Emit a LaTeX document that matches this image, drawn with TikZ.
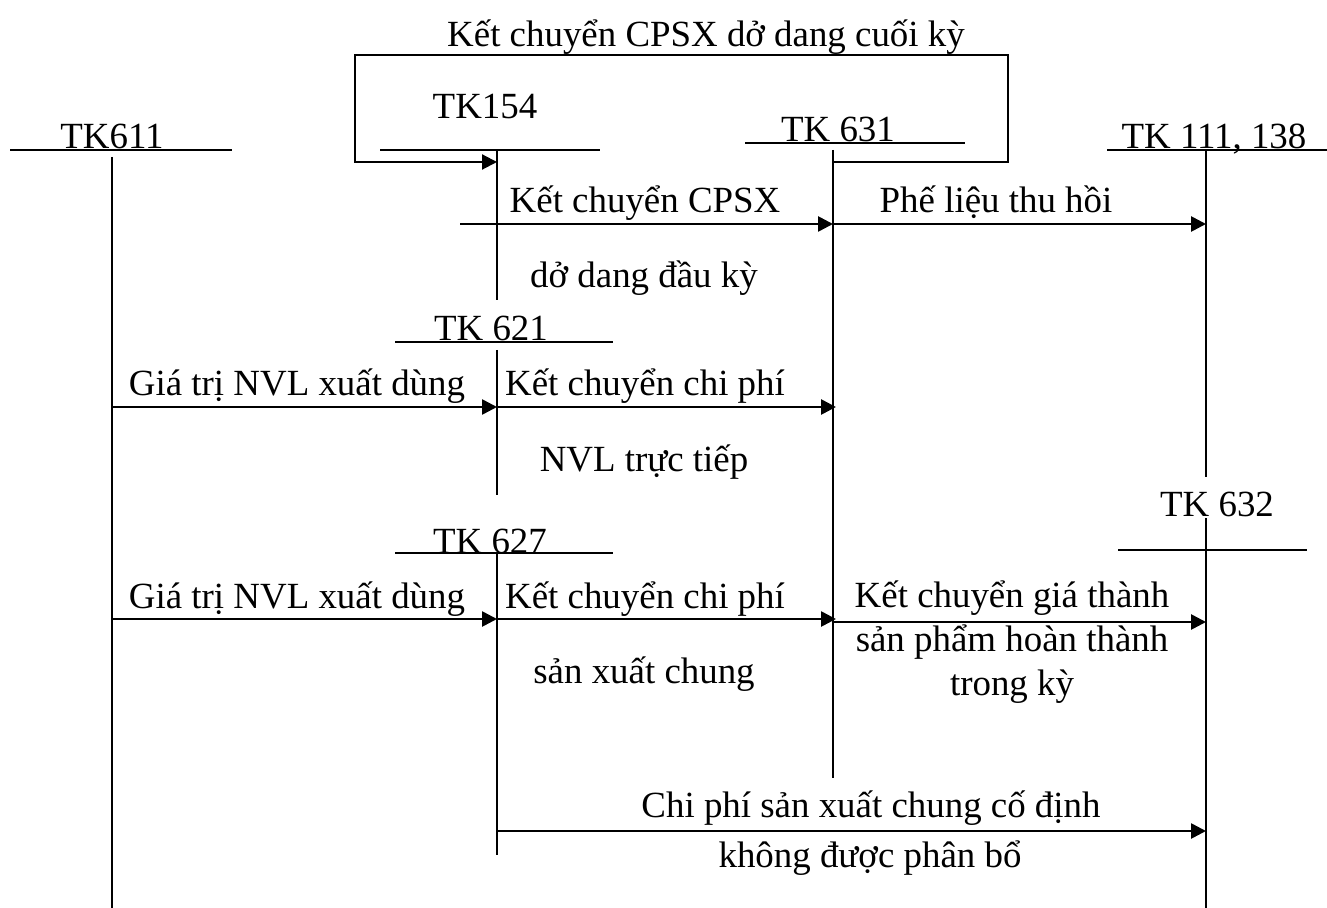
\documentclass[tikz,border=0pt]{standalone}
\usepackage{fontspec}
\setmainfont{Liberation Serif}
\usetikzlibrary{arrows.meta}
\tikzset{
  every picture/.style={line width=1.2pt},
  lbl/.style={font=\fontsize{21}{25}\selectfont, inner sep=0pt, anchor=base},
  acct/.style={lbl},
  tline/.style={line width=1.2pt},
  flow/.style={-{Triangle[length=3mm, width=3mm]}, line width=1.5pt},
}

\begin{document}
\begin{tikzpicture}[x=0.02cm, y=-0.02cm]
  \useasboundingbox (0,0) rectangle (1327,908);
  % tai khoan chu T
  \node[acct] (tk611) at (112,149) {TK611};
  \node[acct] (tk154) at (485,119) {TK154};
  \node[acct] (tk631) at (838,142) {TK 631};
  \node[acct] (tk111) at (1214,149) {TK 111, 138};
  \node[acct] (tk621) at (491,341) {TK 621};
  \node[acct] (tk627) at (490,553) {TK 627};
  \node[acct] (tk632) at (1217,516) {TK 632};
  \foreach \xl/\xr/\yh/\xv/\yt/\yb in {10/232/150/112/157/908, 380/600/150/497/150/300,
      745/965/143/833/150/778, 1107/1327/150/1206/150/477, 395/613/342/497/350/495,
      395/613/553/497/553/855, 1118/1307/550/1206/518/908} {
    \draw[tline] (\xl,\yh) -- (\xr,\yh);
    \draw[tline] (\xv,\yt) -- (\xv,\yb);
  }
  % diem dau, diem cuoi
  \coordinate (s154) at (460,224);
  \coordinate (a631) at (833,224);
  \coordinate (a111) at (1206,224);
  \coordinate (a611) at (112,407);
  \coordinate (a621) at (497,407);
  \coordinate (b631) at (836,407);
  \coordinate (c611) at (112,619);
  \coordinate (c627) at (497,619);
  \coordinate (c631) at (836,619);
  \coordinate (d631) at (833,622);
  \coordinate (d632) at (1206,622);
  \coordinate (e627) at (497,831);
  \coordinate (e632) at (1206,831);
  \coordinate (k631) at (833,162);
  \coordinate (k154) at (497,162);
  % ket chuyen cuoi ky
  \node[lbl] (title) at (706,47) {Kết chuyển CPSX dở dang cuối kỳ};
  \draw[flow, line width=1.2pt] (k631) -- (1008,162) -- (1008,55) -- (355,55) -- (355,162) -- (k154);
  % dong 1
  \draw[flow] (s154) -- (a631);
  \draw[flow] (a631) -- (a111);
  \node[lbl] (kc154) at (645,213) {Kết chuyển CPSX};
  \node[lbl] (kc154b) at (644,288) {dở dang đầu kỳ};
  \node[lbl] (plthu) at (996,213) {Phế liệu thu hồi};
  % dong 2
  \draw[flow] (a611) -- (a621);
  \draw[flow] (a621) -- (b631);
  \node[lbl] (gtnvl1) at (297,396) {Giá trị NVL xuất dùng};
  \node[lbl] (kc621) at (645,396) {Kết chuyển chi phí};
  \node[lbl] (nvltt) at (644,471) {NVL trực tiếp};
  % dong 3
  \draw[flow] (c611) -- (c627);
  \draw[flow] (c627) -- (c631);
  \draw[flow] (d631) -- (d632);
  \node[lbl] (gtnvl2) at (297,608) {Giá trị NVL xuất dùng};
  \node[lbl] (kc627) at (645,608) {Kết chuyển chi phí};
  \node[lbl] (sxc) at (644,683) {sản xuất chung};
  \node[lbl, anchor=center, align=center] (kcgt) at (1012,642) {Kết chuyển giá thành\\sản phẩm hoàn thành\\trong kỳ};
  % dong 4
  \draw[flow] (e627) -- (e632);
  \node[lbl] (cpcd) at (871,817) {Chi phí sản xuất chung cố định};
  \node[lbl] (cpcdb) at (870,867) {không được phân bổ};
\end{tikzpicture}
\end{document}
